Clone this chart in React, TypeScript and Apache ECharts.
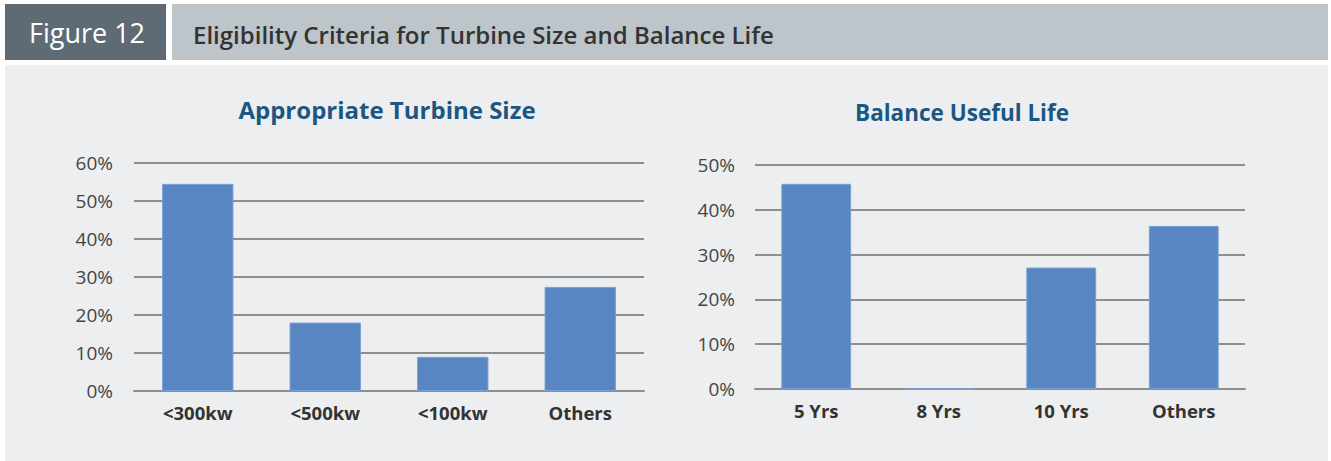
import React, { useEffect, useRef } from "react";
import * as echarts from "echarts";

const sizeCategories = ["<300kw", "<500kw", "<100kw", "Others"];
const sizeValues = [54.5, 18, 9, 27.4];
const sizeTicks = [0, 10, 20, 30, 40, 50, 60];

const lifeCategories = ["5 Yrs", "8 Yrs", "10 Yrs", "Others"];
const lifeValues = [45.8, 0, 27.1, 36.4];
const lifeTicks = [0, 10, 20, 30, 40, 50];

const figureLabel = "Figure 12";
const figureTitle = "Eligibility Criteria for Turbine Size and Balance Life";
const chartTitles = ["Appropriate Turbine Size", "Balance Useful Life"];

const FONT = "'Open Sans', 'Noto Sans', sans-serif";
const BAR = "#5886c2";
const GRID = "#8e8e8e";

export default function App() {
  const ref = useRef<HTMLDivElement>(null);
  useEffect(() => {
    document.body.style.margin = "0";
    const chart = echarts.init(ref.current!, null, { renderer: "svg" });
    const yAxisBase = (ticks: number[], gridIndex: number, margin: number) => ({
      type: "value",
      gridIndex,
      min: ticks[0],
      max: ticks[ticks.length - 1],
      interval: 10,
      axisLine: { show: false },
      axisTick: { show: false },
      axisLabel: {
        formatter: "{value}%",
        color: "#444",
        fontSize: 19,
        fontFamily: FONT,
        margin,
      },
      splitLine: { lineStyle: { color: GRID, width: 2 } },
    });
    const xAxisBase = (cats: string[], gridIndex: number) => ({
      type: "category",
      gridIndex,
      data: cats,
      axisLine: { show: true, lineStyle: { color: GRID, width: 2 } },
      axisTick: { show: false },
      axisLabel: {
        color: "#333",
        fontSize: 18.5,
        fontWeight: "bold",
        fontFamily: FONT,
        margin: 12,
      },
    });
    chart.setOption({
      animation: false,
      backgroundColor: "#ffffff",
      graphic: [
        { type: "rect", shape: { x: 5, y: 4, width: 161, height: 56 }, style: { fill: "#5f6b74" }, z: -10 },
        { type: "rect", shape: { x: 172, y: 4, width: 1156, height: 56 }, style: { fill: "#bdc4ca" }, z: -10 },
        { type: "rect", shape: { x: 5, y: 65, width: 1323, height: 396 }, style: { fill: "#eceef0" }, z: -10 },
        {
          type: "text",
          x: 87,
          y: 32,
          style: {
            text: figureLabel,
            fill: "#ffffff",
            font: `27px ${FONT}`,
            textAlign: "center",
            textVerticalAlign: "middle",
          },
        },
        {
          type: "text",
          x: 193,
          y: 34,
          style: {
            text: figureTitle,
            fill: "#333333",
            font: `600 24px ${FONT}`,
            textAlign: "left",
            textVerticalAlign: "middle",
          },
        },
      ],
      title: [
        {
          text: chartTitles[0],
          left: 382,
          top: 92,
          textAlign: "center",
          textStyle: { color: "#1c5682", fontSize: 24, fontWeight: "bold", fontFamily: FONT },
        },
        {
          text: chartTitles[1],
          left: 957,
          top: 96,
          textAlign: "center",
          textStyle: { color: "#1c5682", fontSize: 22.5, fontWeight: "bold", fontFamily: FONT },
        },
      ],
      grid: [
        { left: 134, top: 163, width: 510, height: 228 },
        { left: 755, top: 165, width: 490, height: 224 },
      ],
      xAxis: [xAxisBase(sizeCategories, 0), xAxisBase(lifeCategories, 1)],
      yAxis: [yAxisBase(sizeTicks, 0, 21), yAxisBase(lifeTicks, 1, 20)],
      series: [
        {
          type: "bar",
          xAxisIndex: 0,
          yAxisIndex: 0,
          data: sizeValues,
          barWidth: "56%",
          itemStyle: { color: BAR, borderColor: "#7aa0d2", borderWidth: 1 },
        },
        {
          type: "bar",
          xAxisIndex: 1,
          yAxisIndex: 1,
          data: lifeValues,
          barWidth: "57%",
          itemStyle: { color: BAR, borderColor: "#7aa0d2", borderWidth: 1 },
        },
      ],
    });
    return () => chart.dispose();
  }, []);
  return (
    <div
      ref={ref}
      style={{ position: "absolute", left: 0, top: 0, width: 1331, height: 461 }}
    />
  );
}
